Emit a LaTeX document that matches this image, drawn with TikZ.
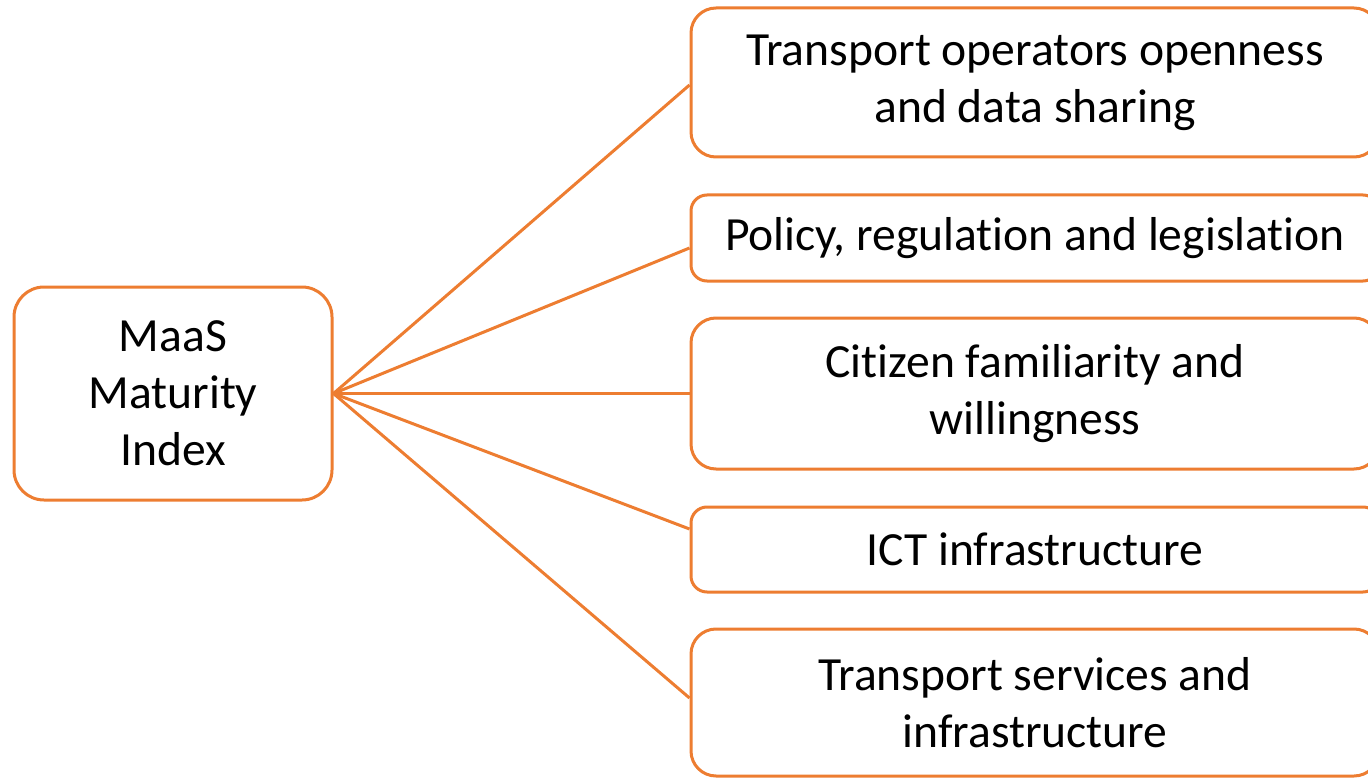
\documentclass[tikz,border=0pt]{standalone}
\usepackage{fontspec}
\setmainfont{Carlito}[Ligatures=NoCommon]
\definecolor{org}{HTML}{ED7D31}
\begin{document}
\begin{tikzpicture}[x=1pt,y=-1pt,
  box/.style={draw=org,line width=3pt,fill=white,align=center,inner sep=0pt,
    font=\fontsize{47.6}{57}\selectfont},
  link/.style={draw=org,line width=3pt}]
\useasboundingbox (0,0) rectangle (1368,778);
\node[box,rounded corners=30pt,minimum width=318pt,minimum height=213pt] (root) at (173,393.5) {MaaS\\Maturity\\Index};
\node[box,rounded corners=25pt,minimum width=688pt,minimum height=149pt] (b1) at (1035,82.5) {Transport operators openness\\and data sharing};
\node[box,rounded corners=16pt,minimum width=688pt,minimum height=86pt] (b2) at (1035,238) {Policy, regulation and legislation};
\node[box,rounded corners=25pt,minimum width=688pt,minimum height=151pt] (b3) at (1035,393.5) {Citizen familiarity and\\willingness};
\node[box,rounded corners=16pt,minimum width=688pt,minimum height=85pt] (b4) at (1035,549.5) {ICT infrastructure};
\node[box,rounded corners=25pt,minimum width=688pt,minimum height=147pt] (b5) at (1035,702.5) {Transport services and\\infrastructure};
\draw[link] (root.east) -- ([yshift=-2.5pt]b1.west);
\draw[link] (root.east) -- ([yshift=-10pt]b2.west);
\draw[link] (root.east) -- (b3.west);
\draw[link] (root.east) -- ([yshift=20.5pt]b4.west);
\draw[link] (root.east) -- ([yshift=4.5pt]b5.west);
\end{tikzpicture}
\end{document}
